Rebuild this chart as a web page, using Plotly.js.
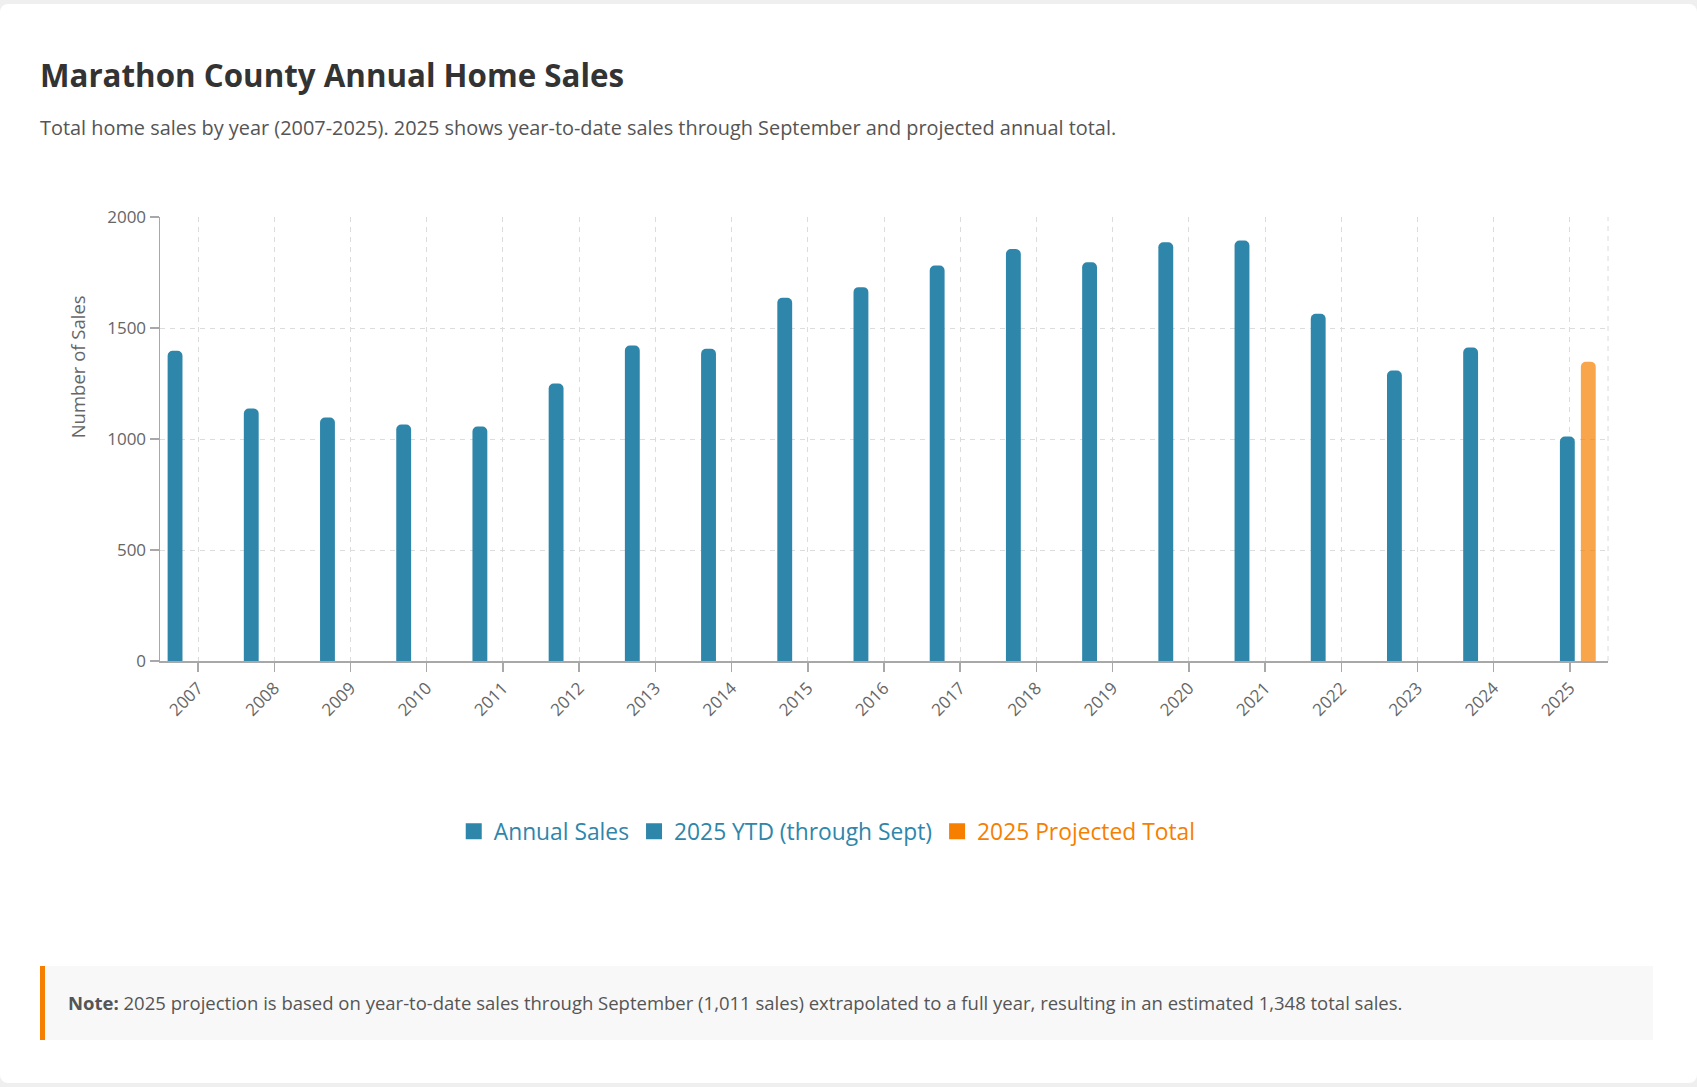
<!DOCTYPE html>
<html>
<head>
<meta charset="utf-8">
<script src="https://cdn.plot.ly/plotly-3.0.1.min.js"></script>
<style>
  html, body { margin: 0; padding: 0; }
  body { width: 1697px; height: 1087px; background: #efefef; position: relative; overflow: hidden;
         font-family: "Open Sans", "Noto Sans", sans-serif; }
  #card { position: absolute; left: 0; top: 4px; width: 1697px; height: 1079px; background: #fff; border-radius: 8px; }
  #title { position: absolute; left: 40px; top: 54px; margin: 0; font-size: 31.3px; font-weight: 700; color: #333; white-space: nowrap; }
  #subtitle { position: absolute; left: 40px; top: 114px; margin: 0; font-size: 19.9px; color: #555; white-space: nowrap; }
  #chart { position: absolute; left: 0; top: 0; width: 1697px; height: 1087px; }
  #note { position: absolute; left: 40px; top: 966px; width: 1613px; height: 74px; background: #f8f8f8;
          border-left: 5px solid #F77F00; box-sizing: border-box; }
  #note p { margin: 0; position: absolute; left: 23px; top: 24px; font-size: 18.5px; color: #555; white-space: nowrap; }
</style>
</head>
<body>
<div id="card"></div>
<h1 id="title">Marathon County Annual Home Sales</h1>
<p id="subtitle">Total home sales by year (2007-2025). 2025 shows year-to-date sales through September and projected annual total.</p>
<div id="chart"></div>
<div id="note"><p><b>Note:</b> 2025 projection is based on year-to-date sales through September (1,011 sales) extrapolated to a full year, resulting in an estimated 1,348 total sales.</p></div>
<script>
// ---- data ----
const annualYears = ["2007","2008","2009","2010","2011","2012","2013","2014","2015","2016","2017","2018","2019","2020","2021","2022","2023","2024"];
const annualSales = [1397, 1137, 1097, 1065, 1056, 1250, 1421, 1406, 1636, 1684, 1781, 1856, 1796, 1886, 1894, 1564, 1308, 1412];
const ytdYears = ["2025"];
const ytdSales = [1011];
const projYears = ["2025"];
const projSales = [1348];
const allYears = annualYears.concat(["2025"]);
const yTicks = [0, 500, 1000, 1500, 2000];
const seriesNames = ["Annual Sales", "2025 YTD (through Sept)", "2025 Projected Total"];

const BLUE = "#2E86AB";
const ORANGE = "#F77F00";
const GRID = "#dcdcdc";
const AXIS = "#a8a8a8";
const FONT = '"Open Sans", "Noto Sans", sans-serif';
const BAR_W = 0.195;
const legendColors = [BLUE, BLUE, ORANGE];

const traces = [
  { type: "bar", x: annualYears, y: annualSales, name: seriesNames[0], showlegend: false,
    width: BAR_W, offset: -0.400, legendgroup: "a",
    marker: { color: BLUE, cornerradius: 5 }, hoverinfo: "skip" },
  { type: "bar", x: ytdYears, y: ytdSales, name: seriesNames[1], showlegend: false,
    width: BAR_W, offset: -0.131, legendgroup: "b",
    marker: { color: BLUE, cornerradius: 5 }, hoverinfo: "skip" },
  { type: "bar", x: projYears, y: projSales, name: seriesNames[2], showlegend: false,
    width: BAR_W, offset: 0.144, legendgroup: "c",
    marker: { color: "rgba(247,127,0,0.7)", cornerradius: 5 }, hoverinfo: "skip" }
];
// legend entries (square swatches, coloured labels)
seriesNames.forEach(function (n, i) {
  traces.push({ type: "scatter", mode: "markers", x: [null], y: [null], legendgroup: ["a","b","c"][i],
    name: '<span style="color:' + legendColors[i] + '">' + n + '</span>',
    marker: { symbol: "square", size: 16, color: legendColors[i] }, hoverinfo: "skip", showlegend: true });
});

const layout = {
  width: 1697, height: 1087,
  paper_bgcolor: "rgba(0,0,0,0)", plot_bgcolor: "rgba(0,0,0,0)",
  margin: { l: 160, r: 89, t: 217, b: 426, pad: 0 },
  font: { family: FONT, color: "#666", size: 16 },
  barmode: "group",
  showlegend: true,
  legend: { orientation: "h", x: 0.4608, xanchor: "center", y: -0.3836, yanchor: "middle",
            font: { size: 22.8, family: FONT }, itemwidth: 30, traceorder: "normal", itemsizing: "trace" },
  xaxis: { type: "category", categoryorder: "array", categoryarray: allYears,
           tickangle: -45, ticks: "outside", ticklen: 9, tickcolor: AXIS, tickwidth: 1.5,
           showline: true, linecolor: AXIS, linewidth: 1.5,
           showgrid: true, gridcolor: GRID, griddash: "5px,5px", gridwidth: 1,
           tickfont: { size: 17, color: "#666" }, fixedrange: true },
  yaxis: { range: [0, 2000], tickvals: yTicks, ticks: "outside", ticklen: 9, tickcolor: AXIS, tickwidth: 1.5,
           showline: true, linecolor: AXIS, linewidth: 1.5, zeroline: false,
           showgrid: true, gridcolor: GRID, griddash: "5px,5px", gridwidth: 1,
           tickfont: { size: 17, color: "#666" }, fixedrange: true },
  shapes: [
    { type: "line", xref: "paper", yref: "paper", x0: 1, x1: 1, y0: 0, y1: 1,
      line: { color: GRID, width: 1, dash: "5px,5px" }, layer: "below" }
  ],
  annotations: [
    { text: "Number of Sales", xref: "paper", yref: "paper", x: -0.0573, y: 0.6615,
      xanchor: "center", yanchor: "middle", textangle: -90, showarrow: false,
      font: { size: 18.5, color: "#666", family: FONT } }
  ]
};

Plotly.newPlot("chart", traces, layout, { displayModeBar: false, staticPlot: true });
</script>
</body>
</html>
